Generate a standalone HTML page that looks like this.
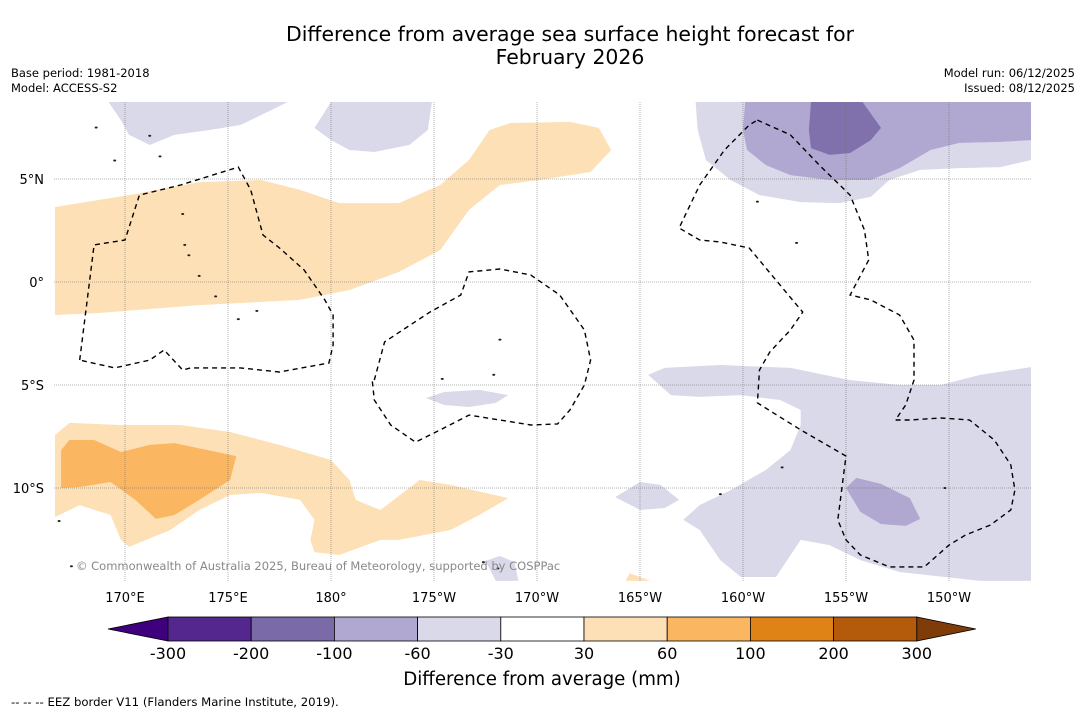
<!DOCTYPE html>
<html><head><meta charset="utf-8"><style>
html,body{margin:0;padding:0;background:#fff;}
svg{display:block;font-family:"DejaVu Sans","Liberation Sans",sans-serif;}
</style></head><body>
<svg id="chart" width="1085" height="713" viewBox="0 0 1085 713">
<rect width="1085" height="713" fill="#fff"/>
<text x="570" y="41" text-anchor="middle" font-size="20.4" fill="#000">Difference from average sea surface height forecast for</text>
<text x="570" y="64" text-anchor="middle" font-size="20.4" fill="#000">February 2026</text>
<text x="11" y="77" font-size="11.5">Base period: 1981-2018</text>
<text x="11" y="92" font-size="11.5">Model: ACCESS-S2</text>
<text x="1075" y="77" font-size="11.5" text-anchor="end">Model run: 06/12/2025</text>
<text x="1075" y="92" font-size="11.5" text-anchor="end">Issued: 08/12/2025</text>
<defs><clipPath id="mapclip"><rect x="54" y="102" width="977" height="479"/></clipPath></defs>
<g id="map" clip-path="url(#mapclip)"></g>
<g id="grid"></g>
<g id="eez"></g>
<g id="islands"></g>
<g id="axes"></g>
<text x="76" y="570" font-size="11.5" fill="#888">© Commonwealth of Australia 2025, Bureau of Meteorology, supported by COSPPac</text>
<g id="cbar"></g>
<text x="542" y="685" text-anchor="middle" font-size="18.2">Difference from average (mm)</text>
<text x="11" y="706" font-size="11.7">--  --  -- EEZ border V11 (Flanders Marine Institute, 2019).</text>
</svg>
<script>
const NS="http://www.w3.org/2000/svg";
const lonTicks=[170,175,180,185,190,195,200,205,210];
const lonTickLabels=["170°E","175°E","180°","175°W","170°W","165°W","160°W","155°W","150°W"];
const latTicks=[5,0,-5,-10];
const latTickLabels=["5°N","0°","5°S","10°S"];
const cbarBounds=[-300,-200,-100,-60,-30,30,60,100,200,300];
const cbarColors=["#54278f","#7b6aa8","#b0a8d0","#d9d9ea","#ffffff","#fde0b5","#fbb661","#e08316","#b35a0b"];
const cbarUnder="#3f007d";
const cbarOver="#7f3b08";

const orangeN=[[166.6,3.64],[170.2,4.22],[173.6,4.85],[176.6,4.95],[178.5,4.47],[180.4,3.83],[183.3,3.83],[185.3,4.71],[186.7,5.92],[187.7,7.38],[188.7,7.72],[191.6,7.77],[193.0,7.48],[193.6,6.41],[192.6,5.34],[190.1,4.95],[188.2,4.71],[186.7,3.5],[185.3,1.55],[183.3,0.49],[180.9,-0.39],[178.5,-0.87],[173.6,-1.12],[168.8,-1.5],[166.6,-1.6]];
const orangeS=[[166.6,-7.43],[167.3,-6.84],[169.8,-6.94],[172.7,-6.94],[175.1,-7.28],[177.5,-7.91],[180.0,-8.64],[180.9,-9.61],[181.2,-10.58],[182.4,-11.07],[184.3,-9.61],[185.8,-9.85],[188.6,-10.49],[187.2,-11.31],[185.8,-12.04],[183.3,-12.52],[182.4,-12.52],[180.4,-13.25],[179.2,-13.11],[179.0,-12.52],[179.2,-11.55],[178.5,-10.58],[176.6,-10.24],[175.1,-10.34],[173.6,-11.07],[172.2,-12.04],[170.2,-12.86],[169.8,-12.52],[169.3,-11.31],[167.8,-10.83],[166.6,-11.41]];
const orangeS2=[[166.9,-8.16],[167.3,-7.67],[168.5,-7.67],[169.8,-8.25],[171.2,-7.91],[172.4,-7.82],[175.4,-8.45],[175.1,-9.61],[173.6,-10.58],[172.4,-11.31],[171.5,-11.5],[170.5,-10.58],[169.3,-9.71],[167.8,-9.95],[166.9,-10.0]];
const orangeSmall=[[194.3,-14.51],[194.5,-14.13],[195.5,-14.51]];
const purpleTL=[[169.2,8.74],[169.8,7.86],[170.2,7.14],[171.2,6.65],[172.4,7.14],[174.1,7.38],[175.6,7.62],[176.6,8.1],[177.9,8.74]];
const purpleTC=[[180.0,8.74],[179.2,7.48],[180.0,6.89],[180.9,6.41],[182.1,6.31],[183.8,6.65],[184.7,7.38],[184.9,8.74]];
const purpleSmall=[[184.6,-5.63],[185.5,-5.34],[187.2,-5.24],[188.6,-5.49],[188.0,-5.87],[186.7,-6.07],[185.5,-5.97]];
const purpleTR=[[197.7,8.74],[197.8,7.38],[198.2,5.92],[199.4,4.95],[200.8,4.22],[202.8,3.88],[204.7,3.83],[206.2,4.13],[207.1,4.95],[208.6,5.44],[210.5,5.53],[212.5,5.58],[214.0,5.92],[214.0,8.74]];
const purpleBR=[[195.4,-4.51],[196.2,-4.17],[198.9,-4.03],[202.3,-4.17],[205.2,-4.76],[207.6,-5.0],[209.6,-5.0],[211.5,-4.51],[214.0,-4.13],[214.0,-14.51],[211.5,-14.51],[207.6,-14.08],[205.7,-13.5],[204.2,-12.77],[202.8,-12.52],[201.6,-14.32],[199.9,-14.32],[198.9,-13.5],[197.9,-12.04],[197.1,-11.55],[197.9,-10.83],[199.4,-10.1],[201.1,-9.13],[202.3,-8.16],[202.8,-6.94],[202.8,-6.21],[201.8,-5.73],[199.9,-5.49],[197.9,-5.58],[196.5,-5.49]];
const purpleBR2=[[193.8,-10.44],[195.0,-9.71],[196.0,-9.85],[196.9,-10.58],[196.2,-10.97],[195.0,-11.07]];
const purpleBot=[[187.5,-13.54],[188.2,-13.3],[188.9,-13.59],[189.1,-14.51],[188.0,-14.51]];
const medTR=[[200.1,8.74],[200.0,7.38],[200.2,6.41],[201.1,5.68],[202.3,5.19],[204.2,4.95],[206.2,4.95],[207.6,5.53],[209.1,6.41],[210.5,6.75],[212.5,6.8],[214.0,6.89],[214.0,8.74]];
const medBR=[[205.0,-10.0],[205.5,-9.51],[206.7,-9.8],[208.1,-10.49],[208.6,-11.5],[207.9,-11.84],[206.7,-11.75],[205.7,-11.16]];
const darkTR=[[203.3,8.74],[203.2,7.38],[203.3,6.5],[204.2,6.17],[205.2,6.26],[206.2,6.89],[206.7,7.48],[205.8,8.74]];
const eez1=[[167.8,-3.79],[168.5,1.8],[170.0,2.04],[170.7,4.22],[172.7,4.71],[175.5,5.58],[176.1,4.47],[176.7,2.28],[177.5,1.65],[178.7,0.58],[179.7,-0.87],[180.1,-1.6],[180.1,-3.06],[179.9,-3.93],[177.5,-4.37],[175.6,-4.17],[173.2,-4.17],[172.8,-4.27],[171.9,-3.3],[171.2,-3.79],[169.5,-4.17],[167.8,-3.79]];
const eez2=[[182.1,-4.76],[182.6,-2.91],[184.8,-1.46],[186.3,-0.63],[186.7,0.49],[188.2,0.63],[189.7,0.34],[191.1,-0.63],[192.3,-2.33],[192.6,-3.79],[192.3,-5.0],[191.6,-6.21],[191.0,-6.89],[189.7,-6.94],[188.2,-6.7],[186.7,-6.46],[185.3,-7.18],[184.1,-7.77],[182.9,-6.94],[182.1,-5.73],[182.0,-4.76]];
const eez3=[[200.7,7.86],[202.3,7.14],[203.7,5.68],[205.2,4.22],[205.9,2.52],[206.1,1.07],[205.2,-0.63],[206.2,-0.87],[207.6,-1.6],[208.3,-2.82],[208.3,-4.76],[207.9,-5.97],[207.4,-6.7],[208.1,-6.7],[209.6,-6.6],[211.0,-6.7],[212.2,-7.67],[213.0,-8.88],[213.2,-10.1],[213.0,-11.07],[212.0,-11.8],[210.8,-12.28],[210.0,-12.77],[208.8,-13.83],[207.1,-13.83],[205.7,-13.25],[205.0,-12.52],[204.6,-11.55],[205.0,-8.45],[202.8,-7.18],[200.7,-5.87],[200.8,-4.27],[201.3,-3.4],[202.3,-2.33],[202.9,-1.46],[201.8,-0.15],[200.3,1.65],[198.9,1.94],[197.9,2.04],[196.9,2.62],[197.9,4.71],[199.1,6.41],[200.3,7.62],[200.7,7.86]];
const islands=[[172.9,1.8],[173.1,1.3],[173.6,0.3],[174.4,-0.7],[175.5,-1.8],[176.4,-1.4],[188.2,-2.8],[185.4,-4.7],[187.9,-4.5],[201.9,-9.0],[202.6,1.9],[200.7,3.9],[198.9,-10.3],[209.8,-10.0],[187.4,-13.6],[188.1,-13.9],[166.8,-11.6],[167.4,-13.8],[171.2,7.1],[171.7,6.1],[168.6,7.5],[169.5,5.9],[172.8,3.3]];

const X0=54,X1=1031,Y0=102,Y1=581;
function xScale(lon){return 331+(lon-180)*20.6;}
function yScale(lat){return 282-lat*20.6;}
function pathOf(pts,close){return pts.map((p,i)=>(i?"L":"M")+xScale(p[0]).toFixed(1)+","+yScale(p[1]).toFixed(1)).join("")+(close?"Z":"");}
function mk(tag,attrs,parent){const e=document.createElementNS(NS,tag);for(const k in attrs)e.setAttribute(k,attrs[k]);parent.appendChild(e);return e;}

const map=document.getElementById("map");
const fills=[
 [orangeN,"#fde0b5","anomaly-positive-north"],[orangeS,"#fde0b5","anomaly-positive-south"],[orangeS2,"#fbb661","anomaly-strong-positive-south"],[orangeSmall,"#fde0b5","anomaly-positive-small"],
 [purpleTL,"#d9d9ea","anomaly-negative-northwest"],[purpleTC,"#d9d9ea","anomaly-negative-north-central"],[purpleSmall,"#d9d9ea","anomaly-negative-small"],[purpleTR,"#d9d9ea","anomaly-negative-northeast"],[purpleBR,"#d9d9ea","anomaly-negative-southeast"],[purpleBR2,"#d9d9ea","anomaly-negative-patch"],[purpleBot,"#d9d9ea","anomaly-negative-bottom"],
 [medTR,"#b0a8d0","anomaly-moderate-negative-northeast"],[medBR,"#b0a8d0","anomaly-moderate-negative-southeast"],[darkTR,"#8070ab","anomaly-strong-negative-northeast"]];
fills.forEach(f=>{
 const p=mk("path",{d:pathOf(f[0],true),fill:f[1],stroke:"none"},map);
 
 
});

const grid=document.getElementById("grid");
const axes=document.getElementById("axes");
lonTicks.forEach((lon,i)=>{
 const x=xScale(lon);
 const l=mk("line",{x1:x,x2:x,y1:Y0,y2:Y1,stroke:"#666","stroke-width":0.5,"stroke-dasharray":"1,1"},grid);
 
 
 const t=mk("text",{x:x,y:602,"text-anchor":"middle","font-size":13},axes);
 t.textContent=lonTickLabels[i];
 
 
});
latTicks.forEach((lat,i)=>{
 const y=yScale(lat);
 const l=mk("line",{x1:X0,x2:X1,y1:y,y2:y,stroke:"#666","stroke-width":0.5,"stroke-dasharray":"1,1"},grid);
 
 
 const t=mk("text",{x:44,y:y+5,"text-anchor":"end","font-size":13},axes);
 t.textContent=latTickLabels[i];
 
 
});

const eez=document.getElementById("eez");
[[eez1,"eez-border-gilbert"],[eez2,"eez-border-phoenix"],[eez3,"eez-border-line-islands"]].forEach(e=>{
 const p=mk("path",{d:pathOf(e[0],false),fill:"none",stroke:"#000","stroke-width":1.4,"stroke-dasharray":"5,4"},eez);
 
 
});
const isl=document.getElementById("islands");
islands.forEach(p=>{
 const c=mk("ellipse",{cx:xScale(p[0]),cy:yScale(p[1]),rx:1.5,ry:1,fill:"#222"},isl);
 
 
});

const cb=document.getElementById("cbar");
const CB0=168,CBW=83.2,CBY=617,CBH=24;
const tri1=mk("polygon",{points:`${CB0},${CBY} ${CB0},${CBY+CBH} 108,${CBY+CBH/2}`,fill:cbarUnder,stroke:"#000","stroke-width":0.8},cb);


cbarColors.forEach((c,i)=>{
 const r=mk("rect",{x:CB0+i*CBW,y:CBY,width:CBW,height:CBH,fill:c,stroke:"#000","stroke-width":0.8},cb);
 
 
});
const xe=CB0+cbarColors.length*CBW;
const tri2=mk("polygon",{points:`${xe},${CBY} ${xe},${CBY+CBH} ${xe+59},${CBY+CBH/2}`,fill:cbarOver,stroke:"#000","stroke-width":0.8},cb);


cbarBounds.forEach((v,i)=>{
 const t=mk("text",{x:CB0+i*CBW,y:659,"text-anchor":"middle","font-size":16},cb);
 t.textContent=String(v);
 
 
});
</script>
</body></html>
